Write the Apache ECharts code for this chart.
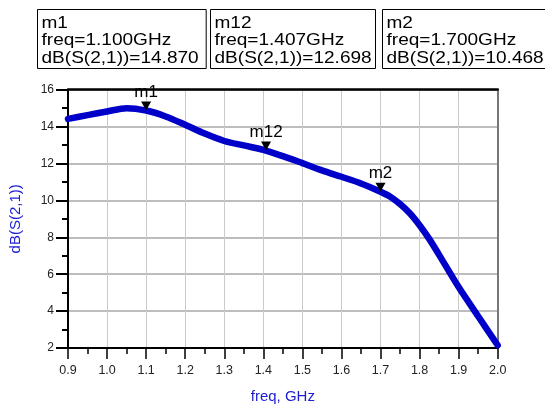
<!DOCTYPE html>
<html>
<head>
<meta charset="utf-8">
<script src="https://cdn.jsdelivr.net/npm/echarts@6/dist/echarts.min.js"></script>
<style>
html,body{margin:0;padding:0;background:#fff;}
#c{width:545px;height:409px;}
</style>
</head>
<body>
<div id="c"></div>
<script>
// Data
const freq = [0.90,0.95,1.00,1.05,1.10,1.15,1.20,1.25,1.30,1.35,1.40,1.45,1.50,1.55,1.60,1.65,1.70,1.725,1.75,1.775,1.80,1.825,1.85,1.90,1.95,2.00];
const s21dB = [14.42,14.62,14.82,15.00,14.87,14.55,14.10,13.62,13.22,12.98,12.74,12.40,12.02,11.63,11.28,10.92,10.47,10.20,9.80,9.30,8.65,7.90,7.05,5.30,3.72,2.15];
const markerNames = ['m1','m12','m2'];
const markerFreq = [1.100,1.407,1.700];
const markerVal = [14.870,12.698,10.468];
const markerFreqText = ['1.100','1.407','1.700'];
const markerValText = ['14.870','12.698','10.468'];

const chart = echarts.init(document.getElementById('c'), null, {renderer:'canvas'});

const boxX = [37, 210, 382];
const boxW = [168.7, 165, 200];
const graphics = [];
for (let i = 0; i < markerNames.length; i++) {
  graphics.push({
    type:'rect', left: boxX[i], top: 9,
    shape:{x:0,y:0,width:boxW[i],height:59},
    style:{fill:'#fff', stroke:'#000', lineWidth:1}, z:10
  });
  graphics.push({
    type:'text', x: boxX[i] + 4.5, y: 14.5, scaleX: 1.12, z:11,
    style:{
      text: markerNames[i] + '\nfreq=' + markerFreqText[i] + 'GHz\ndB(S(2,1))=' + markerValText[i],
      font: '17px "Liberation Sans", Arial, sans-serif',
      lineHeight: 17.5, fill:'#000', verticalAlign:'top'
    }
  });
}

const option = {
  animation:false,
  backgroundColor:'#fff',
  grid:{left:67, right:47.3, top:89.7, bottom:60.3, containLabel:false},
  xAxis:[{
    type:'value', min:0.9, max:2.0, interval:0.1, position:'bottom',
    name:'freq, GHz', nameLocation:'middle', nameGap:41,
    nameTextStyle:{color:'#1c1cd4', fontSize:15, fontFamily:'"Liberation Sans", Arial, sans-serif'},
    axisLine:{show:true, onZero:false, lineStyle:{color:'#000', width:2}},
    axisTick:{show:true, length:11, lineStyle:{color:'#000', width:1.5}},
    minorTick:{show:true, splitNumber:2, length:6, lineStyle:{color:'#000', width:1.5}},
    axisLabel:{margin:16, color:'#222', fontSize:12.5, fontFamily:'"Liberation Sans", Arial, sans-serif',
      formatter:function(v){return v.toFixed(1);}},
    splitLine:{show:true, lineStyle:{color:'#cacaca', width:1}},
    minorSplitLine:{show:false}
  },{
    type:'value', min:0.9, max:2.0, interval:0.1, position:'top',
    axisLine:{show:true, onZero:false, lineStyle:{color:'#000', width:2.5}},
    axisTick:{show:false}, axisLabel:{show:false}, splitLine:{show:false}
  }],
  yAxis:[{
    type:'value', min:2, max:16, interval:2, position:'left',
    name:'dB(S(2,1))', nameLocation:'middle', nameGap:45,
    nameTextStyle:{color:'#1c1cd4', fontSize:15, fontFamily:'"Liberation Sans", Arial, sans-serif'},
    axisLine:{show:true, onZero:false, lineStyle:{color:'#000', width:2}},
    axisTick:{show:true, length:12, lineStyle:{color:'#000', width:2}},
    minorTick:{show:true, splitNumber:2, length:6, lineStyle:{color:'#000', width:2}},
    axisLabel:{margin:14, color:'#222', fontSize:12, fontFamily:'"Liberation Sans", Arial, sans-serif'},
    splitLine:{show:true, lineStyle:{color:'#bdbdbd', width:2}}
  },{
    type:'value', min:2, max:16, interval:2, position:'right',
    axisLine:{show:true, onZero:false, lineStyle:{color:'#777', width:2}},
    axisTick:{show:false}, axisLabel:{show:false}, splitLine:{show:false}
  }],
  series:[{
    type:'line', xAxisIndex:0, yAxisIndex:0,
    data: freq.map((f,i)=>[f, s21dB[i]]),
    smooth:0.3, symbol:'none',
    lineStyle:{color:'#0000c8', width:6.5, cap:'round', join:'round'},
    z:5
  },{
    type:'scatter', xAxisIndex:0, yAxisIndex:0,
    data: markerFreq.map((f,i)=>({name:markerNames[i], value:[f, markerVal[i]]})),
    symbol:'path://M0,0 L10,0 L5,9 Z', symbolSize:[10,9], symbolOffset:[0,-4.5],
    itemStyle:{color:'#000', opacity:1},
    label:{show:true, position:'top', distance:1, formatter:'{b}', color:'#000', fontSize:17,
      fontFamily:'"Liberation Sans", Arial, sans-serif'},
    emphasis:{disabled:true},
    z:6
  }],
  graphic: graphics
};
chart.setOption(option);
</script>
</body>
</html>
